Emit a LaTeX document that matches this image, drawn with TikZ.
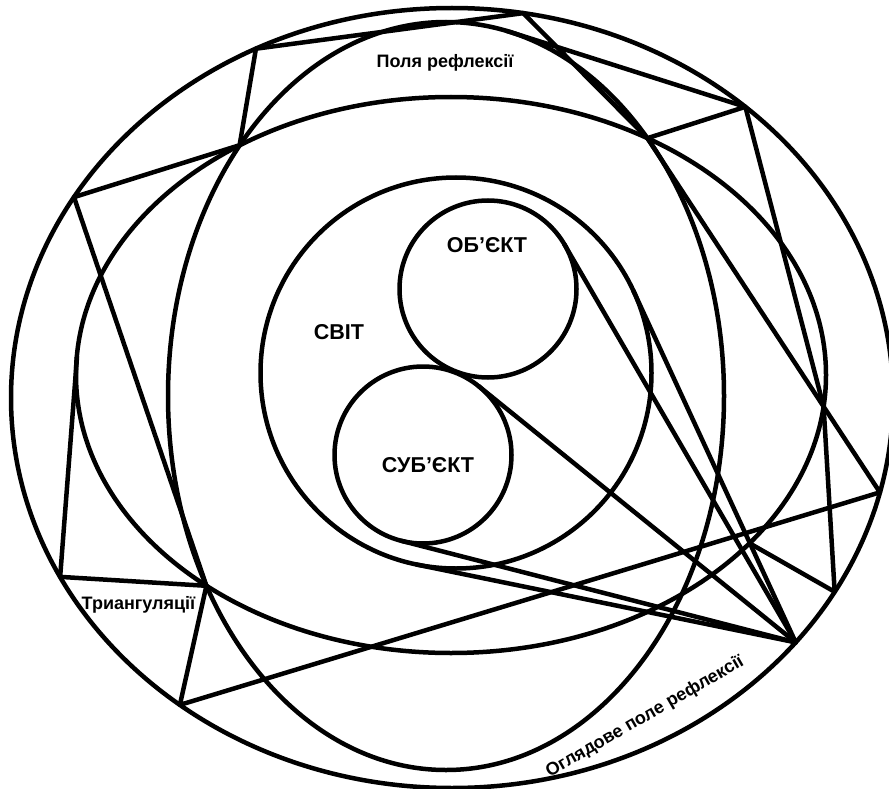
\documentclass[tikz,border=0pt]{standalone}
\usepackage{fontspec}
\setmainfont{Liberation Sans}
\usetikzlibrary{shapes.geometric,calc}
\begin{document}
\begin{tikzpicture}[x=1pt,y=-1pt,
  shapeline/.style={draw=black, line width=4.5pt, inner sep=0pt, outer sep=0pt},
  oval/.style={shapeline, ellipse},
  ring/.style={shapeline, circle},
  tri/.style={draw=black, line width=4.5pt, line cap=round, line join=round},
  biglabel/.style={font=\bfseries\fontsize{21.5}{21.5}\selectfont, inner sep=0pt},
  smalllabel/.style={font=\bfseries\fontsize{18}{18}\selectfont, inner sep=0pt}]
\useasboundingbox (0,0) rectangle (889,789);
% ellipses and circles
\node[oval, minimum width=882pt, minimum height=780pt] (outer) at (452,398) {};
\node[oval, minimum width=750pt, minimum height=556pt] (pole) at (451,375) {};
\node[oval, minimum width=556pt, minimum height=748pt] (ohl) at (446,396) {};
\node[ring, minimum size=391pt] (svit) at (456,373) {};
\node[ring, minimum size=177pt] (obj) at (488,289) {};
\node[ring, minimum size=177pt] (subj) at (423,455) {};
% vertices on the outer ellipse
\coordinate (A) at ($(outer.center)+(116.4:441pt and 390pt)$);
\coordinate (E) at ($(outer.center)+(80.7:441pt and 390pt)$);
\coordinate (F) at ($(outer.center)+(48.3:441pt and 390pt)$);
\coordinate (G) at ($(outer.center)+(-14.0:441pt and 390pt)$);
\coordinate (H) at ($(outer.center)+(-29.8:441pt and 390pt)$);
\coordinate (I) at ($(outer.center)+(-38.8:441pt and 390pt)$);
\coordinate (D) at ($(outer.center)+(231.9:441pt and 390pt)$);
\coordinate (C) at ($(outer.center)+(207.3:441pt and 390pt)$);
\coordinate (B) at ($(outer.center)+(149.0:441pt and 390pt)$);
% inner vertices
\coordinate (P) at (239.6,145.2);
\coordinate (R) at (647.4,138.2);
\coordinate (Q) at (206.4,585.8);
\coordinate (S) at (823.6,406.5);
\coordinate (U) at (750,543.5);
\coordinate (K) at (507,31);
\coordinate (T) at (77,357);
% tangent points
\coordinate (objT) at (564.4,244.4);
\coordinate (subjTu) at (478.6,386.1);
\coordinate (subjTl) at (400.9,540.7);
\coordinate (svitTu) at (633.3,290.6);
\coordinate (svitTl) at (416.5,564.5);
% triangulation
\draw[tri] (A) -- (E);
\draw[tri] (A) -- (P) -- (B) -- (Q) -- (C) -- (T);
\draw[tri] (Q) -- (D) -- (G);
\draw[tri] (E) -- (R) -- (F) -- (K);
\draw[tri] (R) -- (G);
\draw[tri] (F) -- (S) -- (H) -- (U);
% view lines
\draw[tri] (objT) -- (I);
\draw[tri] (svitTu) -- (I);
\draw[tri] (subjTu) -- (I);
\draw[tri] (subjTl) -- (I);
\draw[tri] (svitTl) -- (I);
% labels
\node[biglabel] (svitL) at (339,332) {СВІТ};
\node[biglabel] (objL) at (487,245) {ОБ’ЄКТ};
\node[biglabel] (subjL) at (428,465) {СУБ’ЄКТ};
\node[smalllabel] (poleL) at (445,63) {Поля рефлексії};
\node[smalllabel] (triL) at (138.5,605) {Триангуляції};
\node[smalllabel, rotate=30] (ohlL) at (645,717) {Оглядове поле рефлексії};
\end{tikzpicture}
\end{document}
